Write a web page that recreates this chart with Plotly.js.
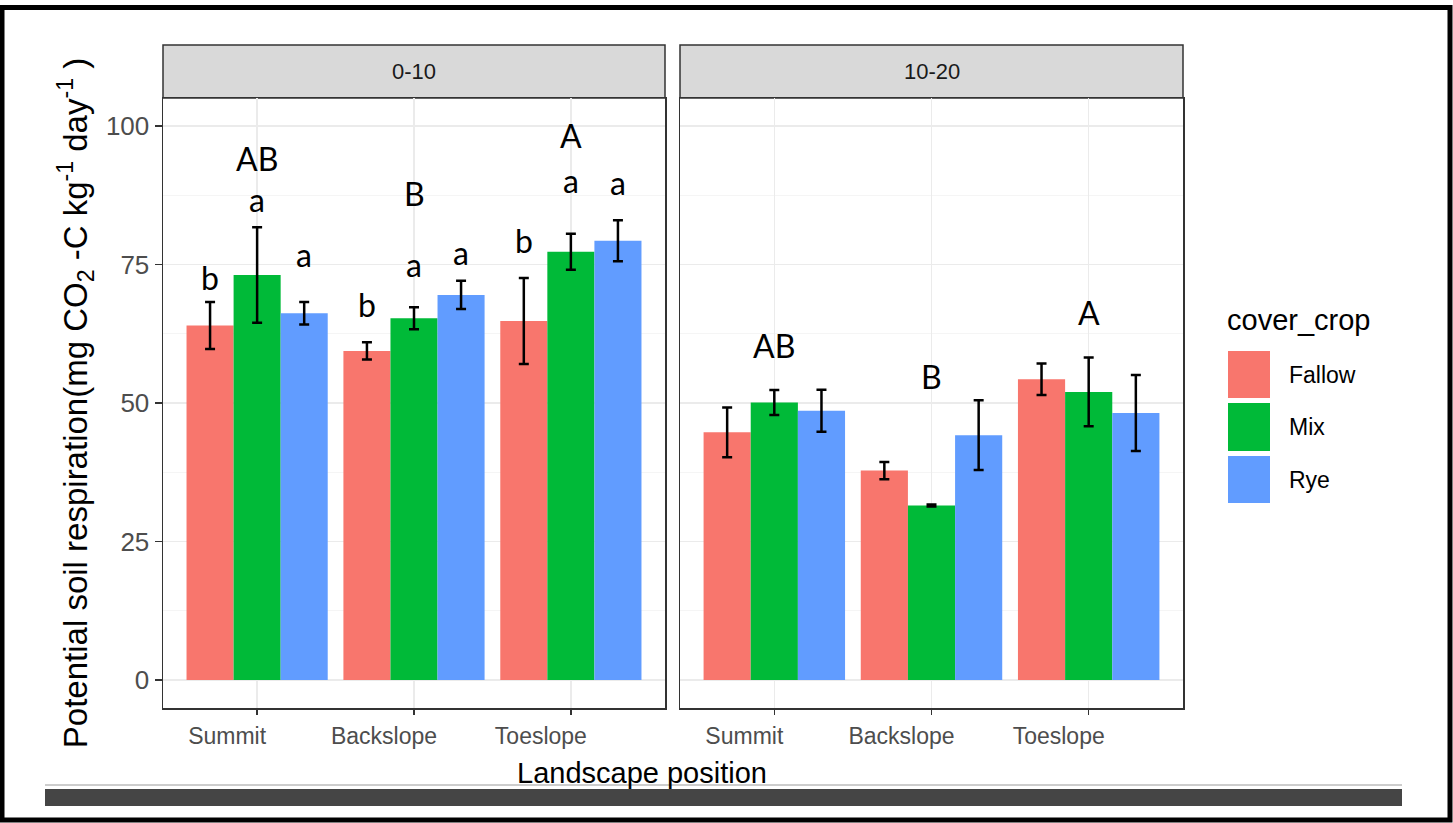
<!DOCTYPE html>
<html>
<head>
<meta charset="utf-8">
<script src="https://cdn.plot.ly/plotly-3.0.1.min.js"></script>
<style>html,body{margin:0;padding:0;background:#fff;}#chart{width:1453px;height:823px;}</style>
</head>
<body>
<div id="chart"></div>
<script>
// ---------- data ----------
const positions = ['Summit', 'Backslope', 'Toeslope'];
const crops = ['Fallow', 'Mix', 'Rye'];
const depths = ['0-10', '10-20'];

const fallow_0_10 = [64.0, 59.4, 64.8];
const fallow_0_10_se = [4.25, 1.55, 7.75];
const mix_0_10 = [73.1, 65.3, 77.3];
const mix_0_10_se = [8.6, 2.0, 3.25];
const rye_0_10 = [66.2, 69.5, 79.3];
const rye_0_10_se = [2.05, 2.55, 3.7];

const fallow_10_20 = [44.7, 37.8, 54.3];
const fallow_10_20_se = [4.5, 1.55, 2.85];
const mix_10_20 = [50.1, 31.5, 52.0];
const mix_10_20_se = [2.25, 0.2, 6.2];
const rye_10_20 = [48.6, 44.2, 48.2];
const rye_10_20_se = [3.8, 6.3, 6.85];

// letters (lowercase: crop within position, 0-10 only)
const fallow_0_10_letters = ['b', 'b', 'b'];
const fallow_0_10_letter_y = [70.4, 65.6, 77.0];
const mix_0_10_letters = ['a', 'a', 'a'];
const mix_0_10_letter_y = [84.5, 72.8, 87.9];
const rye_0_10_letters = ['a', 'a', 'a'];
const rye_0_10_letter_y = [74.5, 74.9, 87.5];
// uppercase: position letters
const pos_0_10_letters = ['AB', 'B', 'A'];
const pos_0_10_letter_y = [91.9, 85.6, 96.0];
const pos_10_20_letters = ['AB', 'B', 'A'];
const pos_10_20_letter_y = [58.2, 52.5, 64.1];

const yTicks = [0, 25, 50, 75, 100];

// ---------- styles ----------
const colors = {Fallow: '#F8766D', Mix: '#00BA38', Rye: '#619CFF'};
const W = 1453, H = 823;
const px = x => x / W;
const py = y => 1 - y / H;
const baseFont = 'Liberation Sans, Arial, sans-serif';
const letterFont = 'Lato, Carlito, sans-serif';
const bargap = 0.1;
const barW = (1 - bargap) / crops.length;

const panelX = [[163, 665], [680, 1183]];
const panelTop = 98, panelBot = 708, stripTop = 45;

const series = {
  '0-10': {Fallow: [fallow_0_10, fallow_0_10_se], Mix: [mix_0_10, mix_0_10_se], Rye: [rye_0_10, rye_0_10_se]},
  '10-20': {Fallow: [fallow_10_20, fallow_10_20_se], Mix: [mix_10_20, mix_10_20_se], Rye: [rye_10_20, rye_10_20_se]}
};

const traces = [];
depths.forEach((d, di) => {
  crops.forEach(c => {
    traces.push({
      type: 'bar',
      name: c,
      x: positions,
      y: series[d][c][0],
      xaxis: di === 0 ? 'x' : 'x2',
      yaxis: di === 0 ? 'y' : 'y2',
      marker: {color: colors[c], line: {width: 0}},
      error_y: {type: 'data', array: series[d][c][1], visible: true, color: '#000', thickness: 2.5, width: 5},
      showlegend: false,
      hoverinfo: 'x+y+name'
    });
  });
});

const annotations = [];
function addLetters(letters, ys, xref, yref, offset) {
  letters.forEach((t, i) => {
    annotations.push({
      x: i + offset, y: ys[i], xref: xref, yref: yref, text: t, showarrow: false,
      yanchor: 'bottom', yshift: -9,
      font: {family: letterFont, size: 32, color: '#000'}
    });
  });
}
addLetters(fallow_0_10_letters, fallow_0_10_letter_y, 'x', 'y', -barW);
addLetters(mix_0_10_letters, mix_0_10_letter_y, 'x', 'y', 0);
addLetters(rye_0_10_letters, rye_0_10_letter_y, 'x', 'y', barW);
addLetters(pos_0_10_letters, pos_0_10_letter_y, 'x', 'y', 0);
addLetters(pos_10_20_letters, pos_10_20_letter_y, 'x2', 'y2', 0);

// strip labels
depths.forEach((d, di) => {
  annotations.push({
    x: px((panelX[di][0] + panelX[di][1]) / 2), y: py((stripTop + panelTop) / 2),
    xref: 'paper', yref: 'paper', text: d, showarrow: false,
    xanchor: 'center', yanchor: 'middle',
    font: {family: baseFont, size: 22, color: '#1A1A1A'}
  });
});

// x axis title
annotations.push({
  x: px(642), y: py(773), xref: 'paper', yref: 'paper', text: 'Landscape position',
  showarrow: false, xanchor: 'center', yanchor: 'middle',
  font: {family: baseFont, size: 29, color: '#000'}
});

// manual legend
annotations.push({
  x: px(1225), y: py(320), xref: 'paper', yref: 'paper', text: 'cover_crop',
  showarrow: false, xanchor: 'left', yanchor: 'middle',
  font: {family: baseFont, size: 29, color: '#000'}
});
const legendRows = [[351, 398], [403, 451], [456, 503]];
const shapes = [];
crops.forEach((c, i) => {
  const [y0, y1] = legendRows[i];
  shapes.push({type: 'rect', xref: 'paper', yref: 'paper', x0: px(1228), x1: px(1270), y0: py(y1), y1: py(y0),
    fillcolor: colors[c], line: {width: 0}});
  annotations.push({
    x: px(1287), y: py((y0 + y1) / 2), xref: 'paper', yref: 'paper', text: c,
    showarrow: false, xanchor: 'left', yanchor: 'middle',
    font: {family: baseFont, size: 23, color: '#000'}
  });
});

// strips
panelX.forEach(([a, b]) => {
  shapes.push({type: 'rect', xref: 'paper', yref: 'paper', x0: px(a), x1: px(b), y0: py(panelTop), y1: py(stripTop),
    fillcolor: '#D9D9D9', line: {color: '#333333', width: 1.5}, layer: 'below'});
});

// image frame + dark band (as in reference picture)
shapes.push({type: 'line', xref: 'paper', yref: 'paper', x0: px(45), x1: px(1402), y0: py(785), y1: py(785),
  line: {color: '#9A9A9A', width: 1}});
shapes.push({type: 'rect', xref: 'paper', yref: 'paper', x0: px(45), x1: px(1402), y0: py(806), y1: py(789),
  fillcolor: '#454545', line: {width: 0}});
shapes.push({type: 'rect', xref: 'paper', yref: 'paper', x0: px(2), x1: px(1450), y0: py(820), y1: py(7.5),
  fillcolor: 'rgba(0,0,0,0)', line: {color: '#000', width: 5}});

const gridMajor = '#EBEBEB';
const gridMinor = '#F5F5F5';
const xCommon = {
  type: 'category', categoryorder: 'array', categoryarray: positions,
  showgrid: true, gridcolor: gridMajor, gridwidth: 1.5,
  showline: true, mirror: true, linecolor: '#333333', linewidth: 1.5,
  ticks: 'outside', ticklen: 5, tickcolor: '#333333', tickwidth: 1.5,
  tickfont: {family: baseFont, size: 23, color: '#4D4D4D'},
  ticklabelshift: -30, ticklabelstandoff: 2,
  range: [-0.6, 2.6], zeroline: false, fixedrange: true
};
const yCommon = {
  range: [-5.05, 105.05], tickvals: yTicks,
  showgrid: true, gridcolor: gridMajor, gridwidth: 1.5,
  minor: {dtick: 12.5, tick0: 0, showgrid: true, gridcolor: gridMinor, gridwidth: 1, ticks: ''},
  showline: true, mirror: true, linecolor: '#333333', linewidth: 1.5,
  zeroline: false, fixedrange: true,
  domain: [py(panelBot), py(panelTop)]
};

const layout = {
  width: W, height: H,
  margin: {l: 0, r: 0, t: 0, b: 0},
  paper_bgcolor: '#FFFFFF', plot_bgcolor: '#FFFFFF',
  barmode: 'group', bargap: bargap, bargroupgap: 0,
  showlegend: false,
  xaxis: Object.assign({}, xCommon, {domain: [px(panelX[0][0]), px(panelX[0][1])], anchor: 'y'}),
  xaxis2: Object.assign({}, xCommon, {domain: [px(panelX[1][0]), px(panelX[1][1])], anchor: 'y2'}),
  yaxis: Object.assign({}, yCommon, {
    anchor: 'x',
    ticks: 'outside', ticklen: 7, tickcolor: '#333333', tickwidth: 1.5,
    tickfont: {family: baseFont, size: 26, color: '#4D4D4D'},
    title: {text: 'Potential soil respiration(mg CO<sub>2</sub> -C kg<sup>-1</sup> day<sup>-1</sup> )',
      font: {family: baseFont, size: 33, color: '#000'}, standoff: 8}
  }),
  yaxis2: Object.assign({}, yCommon, {anchor: 'x2', matches: 'y', showticklabels: false, ticks: ''}),
  annotations: annotations,
  shapes: shapes,
  font: {family: baseFont}
};

Plotly.newPlot('chart', traces, layout, {displayModeBar: false, staticPlot: true});
</script>
</body>
</html>
